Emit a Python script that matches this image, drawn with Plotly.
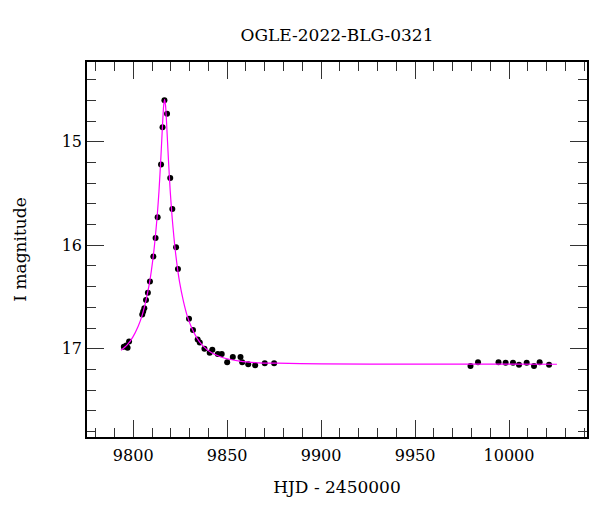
import plotly.graph_objects as go

# Observed photometry (HJD - 2450000, I magnitude)
obs_hjd = [9795.0, 9796.3, 9797.0, 9797.8,
           9804.8, 9805.3, 9805.9, 9806.8, 9807.8, 9808.9, 9810.7, 9811.9, 9813.0,
           9814.8, 9815.6, 9816.6, 9818.0, 9819.7, 9820.8, 9822.8, 9823.8,
           9829.7, 9831.8, 9834.3, 9835.4, 9837.9, 9840.7, 9842.1, 9845.0, 9847.1,
           9850.0, 9853.0, 9857.1, 9858.0, 9861.2, 9864.9, 9870.0, 9875.0,
           9979.5, 9983.5, 9994.4, 9998.2, 10002.1, 10005.3, 10009.4, 10013.3,
           10016.3, 10021.3]
obs_mag = [16.98, 16.97, 16.99, 16.93,
           16.67, 16.64, 16.61, 16.53, 16.46, 16.35, 16.11, 15.93, 15.73,
           15.22, 14.86, 14.60, 14.73, 15.35, 15.65, 16.02, 16.23,
           16.71, 16.82, 16.91, 16.94, 17.00, 17.04, 17.01, 17.05, 17.05,
           17.13, 17.08, 17.08, 17.13, 17.15, 17.16, 17.14, 17.14,
           17.167, 17.13, 17.13, 17.135, 17.135, 17.155, 17.135, 17.167,
           17.13, 17.155]

# Model curve
model_hjd = [9793.5, 9796.7, 9799.7, 9802.7, 9804.7, 9806.7, 9808.7, 9810.7,
             9811.7, 9812.7, 9813.7, 9814.7, 9815.7, 9816.2, 9816.7, 9817.2,
             9817.7, 9818.7, 9819.7, 9820.7, 9821.7, 9822.7, 9824.7, 9826.7,
             9828.7, 9830.7, 9833.7, 9836.7, 9841.7, 9846.7, 9856.7, 9866.7,
             9876.7, 9900.0, 9950.0, 10025.5]
model_mag = [17.015, 16.965, 16.89, 16.78, 16.68, 16.54, 16.36, 16.10,
             15.93, 15.73, 15.48, 15.16, 14.80, 14.65, 14.59, 14.65,
             14.80, 15.16, 15.48, 15.73, 15.93, 16.10, 16.36, 16.54,
             16.68, 16.78, 16.89, 16.965, 17.04, 17.08, 17.12, 17.136,
             17.14, 17.147, 17.149, 17.15]

FONT = "DejaVu Serif"

fig = go.Figure()
fig.add_trace(go.Scatter(x=obs_hjd, y=obs_mag, mode="markers",
                         marker=dict(color="black", size=6),
                         showlegend=False, name="OGLE"))
fig.add_trace(go.Scatter(x=model_hjd, y=model_mag, mode="lines",
                         line=dict(color="#ff00ff", width=1.2, shape="spline", smoothing=0.6),
                         showlegend=False, name="model"))

axis_common = dict(
    showgrid=False, zeroline=False, showline=True, linecolor="black", linewidth=1.5,
    mirror="allticks", ticks="inside", ticklen=17, tickwidth=1.2, tickcolor="#333",
    tickfont=dict(family=FONT, size=16, color="black"),
)

fig.update_layout(
    width=600, height=512,
    margin=dict(l=87, r=13, t=62, b=75),
    paper_bgcolor="white", plot_bgcolor="white",
    font=dict(family=FONT, size=16, color="black"),
    title=dict(text="OGLE-2022-BLG-0321", x=0.5, xref="paper", xanchor="center",
               y=1 - 35 / 512, yref="container", yanchor="middle",
               font=dict(family=FONT, size=17, color="black")),
    xaxis=dict(range=[9775.4, 10041.5], tick0=9800, dtick=50, tickformat="d",
               ticklabelstandoff=3,
               minor=dict(dtick=10, ticks="inside", ticklen=9, tickcolor="#333", tickwidth=1.2),
               title=dict(text="HJD - 2450000", standoff=17,
                          font=dict(family=FONT, size=17, color="black")),
               **axis_common),
    yaxis=dict(range=[17.853, 14.23], tick0=15, dtick=1, tickformat="d",
               minor=dict(dtick=0.2, ticks="inside", ticklen=9, tickcolor="#333", tickwidth=1.2),
               title=dict(text="I magnitude", standoff=31,
                          font=dict(family=FONT, size=17, color="black")),
               **axis_common),
)

fig.write_html("out.html")
